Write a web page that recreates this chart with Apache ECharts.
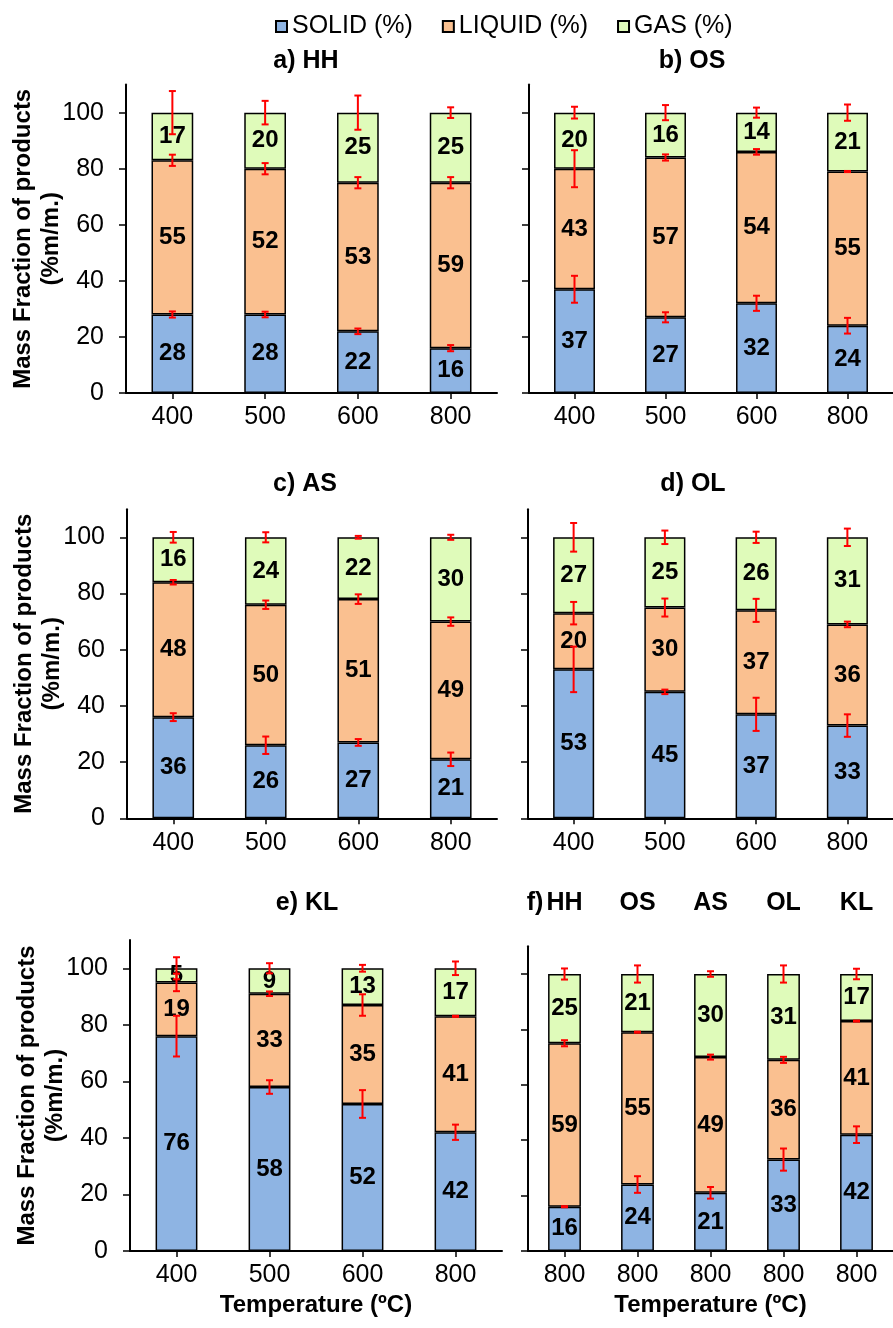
<!DOCTYPE html>
<html>
<head>
<meta charset="utf-8">
<script src="https://cdn.jsdelivr.net/npm/echarts@6/dist/echarts.min.js"></script>
<style>
  html, body { margin: 0; padding: 0; background: #ffffff; }
  #chart { width: 893px; height: 1328px; }
</style>
</head>
<body>
<div id="chart"></div>
<script>
// ---- categories and tick labels ----
const TEMPS = ['400', '500', '600', '800'];
const F_SAMPLES = ['HH', 'OS', 'AS', 'OL', 'KL'];
const F_TEMPS = ['800', '800', '800', '800', '800'];
const Y_TICKS = [0, 20, 40, 60, 80, 100];
const SERIES_NAMES = ['SOLID (%)', 'LIQUID (%)', 'GAS (%)'];
const PANEL_TITLES = ['a) HH', 'b) OS', 'c) AS', 'd) OL', 'e) KL', 'f)'];

// ---- a) HH ----
const HH_SOLID = [28, 28, 22, 16];
const HH_LIQUID = [55, 52, 53, 59];
const HH_GAS = [17, 20, 25, 25];
const HH_ERR_SOLID = [1.1, 1.0, 1.0, 1.1];
const HH_ERR_LIQUID = [2.0, 2.0, 2.0, 2.0];
const HH_ERR_GAS = [7.7, 4.2, 6.1, 1.9];

// ---- b) OS ----
const OS_SOLID = [37, 27, 32, 24];
const OS_LIQUID = [43, 57, 54, 55];
const OS_GAS = [20, 16, 14, 21];
const OS_ERR_SOLID = [4.8, 1.8, 2.7, 2.8];
const OS_ERR_LIQUID = [6.6, 1.1, 1.0, 0.2];
const OS_ERR_GAS = [2.1, 2.7, 1.8, 2.9];

// ---- c) AS ----
const AS_SOLID = [36, 26, 27, 21];
const AS_LIQUID = [48, 50, 51, 49];
const AS_GAS = [16, 24, 22, 30];
const AS_ERR_SOLID = [1.4, 3.1, 1.2, 2.4];
const AS_ERR_LIQUID = [0.8, 1.5, 1.7, 1.5];
const AS_ERR_GAS = [1.9, 1.8, 0.5, 0.9];

// ---- d) OL ----
const OL_SOLID = [53, 45, 37, 33];
const OL_LIQUID = [20, 30, 37, 36];
const OL_GAS = [27, 25, 26, 31];
const OL_ERR_SOLID = [8.1, 0.8, 5.9, 4.0];
const OL_ERR_LIQUID = [4.0, 3.2, 4.1, 1.0];
const OL_ERR_GAS = [5.1, 2.4, 2.0, 3.1];

// ---- e) KL ----
const KL_SOLID = [76, 58, 52, 42];
const KL_LIQUID = [19, 33, 35, 41];
const KL_GAS = [5, 9, 13, 17];
const KL_ERR_SOLID = [7.2, 2.4, 4.9, 2.7];
const KL_ERR_LIQUID = [3.1, 0.8, 3.8, 0.2];
const KL_ERR_GAS = [3.9, 1.8, 1.2, 2.4];

// ---- f) all samples at 800 ºC ----
const F_SOLID = [16, 24, 21, 33, 42];
const F_LIQUID = [59, 55, 49, 36, 41];
const F_GAS = [25, 21, 30, 31, 17];
const F_ERR_SOLID = [0.2, 3.0, 2.1, 4.0, 3.0];
const F_ERR_LIQUID = [1.1, 0.2, 0.9, 1.1, 0.2];
const F_ERR_GAS = [2.0, 3.1, 1.0, 3.1, 1.9];

// ---- styling ----
const FONT = "'Liberation Sans', Arial, Helvetica, sans-serif";
const COLORS = ['#8EB4E3', '#FAC090', '#DFFBBA'];
const ERR_COLOR = '#FF0000';

// plot boxes (pixels) for the six panels
const GRIDS = [
  { left: 126, top: 84.6, width: 371, height: 308.4 },
  { left: 529, top: 84.6, width: 370, height: 308.4 },
  { left: 127, top: 509.2, width: 370, height: 309.1 },
  { left: 528, top: 509.2, width: 370, height: 309.1 },
  { left: 130, top: 940, width: 372, height: 311 },
  { left: 528, top: 946.3, width: 370, height: 304.7 }
];
const TITLE_POS = [[306, 61.5], [692, 61.5], [305, 484], [693, 484], [307, 903], [535, 903]];

const panels = [
  [TEMPS, HH_SOLID, HH_LIQUID, HH_GAS, HH_ERR_SOLID, HH_ERR_LIQUID, HH_ERR_GAS],
  [TEMPS, OS_SOLID, OS_LIQUID, OS_GAS, OS_ERR_SOLID, OS_ERR_LIQUID, OS_ERR_GAS],
  [TEMPS, AS_SOLID, AS_LIQUID, AS_GAS, AS_ERR_SOLID, AS_ERR_LIQUID, AS_ERR_GAS],
  [TEMPS, OL_SOLID, OL_LIQUID, OL_GAS, OL_ERR_SOLID, OL_ERR_LIQUID, OL_ERR_GAS],
  [TEMPS, KL_SOLID, KL_LIQUID, KL_GAS, KL_ERR_SOLID, KL_ERR_LIQUID, KL_ERR_GAS],
  [F_SAMPLES, F_SOLID, F_LIQUID, F_GAS, F_ERR_SOLID, F_ERR_LIQUID, F_ERR_GAS]
];

// red error bar with caps, centred on the top of a stacked segment
function renderErr(params, api) {
  const x = api.value(0), y = api.value(1), e = api.value(2);
  const lo = api.coord([x, y - e]);
  const hi = api.coord([x, y + e]);
  const cx = lo[0], hw = 3.5;
  const st = { stroke: ERR_COLOR, lineWidth: 2 };
  return {
    type: 'group',
    children: [
      { type: 'line', shape: { x1: cx, y1: lo[1], x2: cx, y2: hi[1] }, style: st },
      { type: 'line', shape: { x1: cx - hw, y1: lo[1], x2: cx + hw, y2: lo[1] }, style: st },
      { type: 'line', shape: { x1: cx - hw, y1: hi[1], x2: cx + hw, y2: hi[1] }, style: st }
    ]
  };
}

const grid = [], xAxis = [], yAxis = [], series = [], graphic = [];

panels.forEach((p, gi) => {
  const [cats, solid, liquid, gas, eS, eL, eG] = p;
  grid.push(Object.assign({ containLabel: false }, GRIDS[gi]));

  const isBottomRow = gi >= 4;
  const isLeftCol = gi % 2 === 0;

  xAxis.push({
    type: 'category',
    gridIndex: gi,
    data: cats,
    axisLine: { show: true, lineStyle: { color: '#000', width: 2 } },
    axisTick: { show: true, alignWithLabel: true, length: 6, lineStyle: { color: '#000', width: 1.5 } },
    axisLabel: {
      color: '#000', fontSize: 25, fontFamily: FONT, margin: 12,
      formatter: gi === 5 ? (v, i) => F_TEMPS[i] : (v) => v
    },
    splitLine: { show: false },
    name: isBottomRow ? 'Temperature (ºC)' : '',
    nameLocation: 'middle',
    nameGap: 42,
    nameMoveOverlap: false,
    nameTextStyle: { color: '#000', fontSize: 24, fontWeight: 'bold', fontFamily: FONT }
  });

  yAxis.push({
    type: 'value',
    gridIndex: gi,
    min: 0, max: 110, interval: 20,
    axisLine: { show: true, lineStyle: { color: '#000', width: 2 } },
    axisTick: { show: true, length: 7, customValues: Y_TICKS, lineStyle: { color: '#000', width: 1.5 } },
    axisLabel: {
      show: isLeftCol,
      color: '#000', fontSize: 25, fontFamily: FONT, margin: 22, customValues: Y_TICKS
    },
    splitLine: { show: false },
    name: isLeftCol ? 'Mass Fraction of products\n(%m/m.)' : '',
    nameLocation: 'middle',
    nameRotate: 90,
    nameGap: 61,
    nameMoveOverlap: false,
    nameTextStyle: { color: '#000', fontSize: 24, fontWeight: 'bold', fontFamily: FONT, lineHeight: 28 }
  });

  const stackId = 'panel' + gi;
  [solid, liquid, gas].forEach((vals, si) => {
    series.push({
      type: 'bar',
      name: SERIES_NAMES[si],
      xAxisIndex: gi,
      yAxisIndex: gi,
      stack: stackId,
      barWidth: '45%',
      data: vals,
      itemStyle: { color: COLORS[si], borderColor: '#000', borderWidth: 1.5 },
      label: {
        show: true, position: 'inside', formatter: '{c}',
        color: '#000', fontSize: 24, fontWeight: 'bold', fontFamily: FONT,
        textBorderWidth: 0
      },
      emphasis: { disabled: true },
      z: 2
    });
  });

  // cumulative segment tops with their uncertainties
  const errData = [];
  cats.forEach((c, i) => {
    const t1 = solid[i];
    const t2 = t1 + liquid[i];
    const t3 = t2 + gas[i];
    errData.push([i, t1, eS[i]], [i, t2, eL[i]], [i, t3, eG[i]]);
  });
  series.push({
    type: 'custom',
    name: 'err' + gi,
    xAxisIndex: gi,
    yAxisIndex: gi,
    renderItem: renderErr,
    data: errData,
    clip: false,
    silent: true,
    z: 10
  });

  graphic.push({
    type: 'text',
    x: TITLE_POS[gi][0],
    y: TITLE_POS[gi][1],
    style: {
      text: PANEL_TITLES[gi],
      font: 'bold 25px ' + FONT,
      fill: '#000',
      align: 'center', verticalAlign: 'middle',
      textAlign: 'center', textVerticalAlign: 'middle'
    }
  });
});

// sample names above panel f
xAxis.push({
  type: 'category',
  gridIndex: 5,
  position: 'top',
  data: F_SAMPLES,
  axisLine: { show: false },
  axisTick: { show: false },
  axisLabel: { color: '#000', fontSize: 25, fontWeight: 'bold', fontFamily: FONT, margin: 31 },
  splitLine: { show: false }
});

const chart = echarts.init(document.getElementById('chart'), null, { renderer: 'canvas' });
chart.setOption({
  animation: false,
  backgroundColor: '#ffffff',
  textStyle: { fontFamily: FONT },
  legend: {
    data: SERIES_NAMES,
    left: 275,
    top: 14,
    padding: 0,
    itemWidth: 11,
    itemHeight: 11,
    itemGap: 29,
    icon: 'rect',
    textStyle: { color: '#000', fontSize: 25, fontFamily: FONT },
    selectedMode: false
  },
  grid: grid,
  xAxis: xAxis,
  yAxis: yAxis,
  series: series,
  graphic: graphic
});
</script>
</body>
</html>
